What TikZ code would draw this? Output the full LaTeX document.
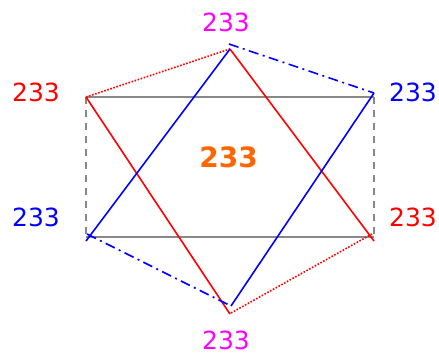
\documentclass[tikz,border=0pt]{standalone}
\usepackage{fontspec}
\setmainfont{DejaVu Sans}
\definecolor{pmag}{RGB}{255,0,255}
\definecolor{pred}{RGB}{255,0,0}
\definecolor{pblue}{RGB}{0,0,255}
\definecolor{porange}{RGB}{255,102,0}
\definecolor{pgray}{RGB}{136,136,136}
\begin{document}
\begin{tikzpicture}[x=1pt,y=-1pt,
  lbl/.style={font=\fontsize{25}{30}\selectfont, inner sep=0pt, anchor=center},
  redl/.style={draw=pred, line width=1.6pt},
  bluel/.style={draw=pblue, line width=1.6pt},
  grayl/.style={draw=pgray, line width=2pt},
  reddot/.style={draw=pred, line width=1.6pt, dash pattern=on 1.6pt off 1.6pt},
  bluedd/.style={draw=pblue, line width=1.6pt, dash pattern=on 10pt off 4.5pt on 2pt off 4.5pt}]
\useasboundingbox (0,0) rectangle (439,354);
% gray rectangle
\coordinate (gTL) at (86,97);
\coordinate (gTR) at (374,97);
\coordinate (gBL) at (86,237);
\coordinate (gBR) at (374,237);
% red
\coordinate (rT) at (230,49);
\coordinate (rTL) at (86,97);
\coordinate (rB) at (230,314);
\coordinate (rBd) at (231,313);
\coordinate (rBR) at (374,241);
\coordinate (rBRd) at (372,234);
% blue
\coordinate (bT) at (230,49);
\coordinate (bTd) at (229,44);
\coordinate (bTR) at (374,93);
\coordinate (bB) at (231,306);
\coordinate (bBL) at (86,241);
\coordinate (bBLd) at (87,234);
% gray
\draw[grayl] (gTL) -- (gTR);
\draw[grayl] (gBL) -- (gBR);
\draw[grayl, dash pattern=on 7pt off 6pt] (gTL) -- (gBL);
\draw[grayl, dash pattern=on 7pt off 6pt] (gTR) -- (gBR);
% red
\draw[redl] (rTL) -- (rB);
\draw[redl] (rT) -- (rBR);
\draw[reddot] (rTL) -- (rT);
\draw[reddot] (rBd) -- (rBRd);
% blue
\draw[bluel] (bT) -- (bBL);
\draw[bluel] (bTR) -- (bB);
\draw[bluedd] (bTd) -- (bTR);
\draw[bluedd] (bBLd) -- (bB);
% labels
\node[lbl, text=pmag] (lt) at (226,22) {233};
\node[lbl, text=pmag] (lb) at (226,340) {233};
\node[lbl, text=pred] (ltl) at (36,92) {233};
\node[lbl, text=pblue] (ltr) at (413,92) {233};
\node[lbl, text=pblue] (lbl) at (36,217) {233};
\node[lbl, text=pred] (lbr) at (413,217) {233};
\node[lbl, text=porange, font=\fontsize{28}{32}\selectfont\bfseries] (lc) at (228.5,157) {233};
\end{tikzpicture}
\end{document}
